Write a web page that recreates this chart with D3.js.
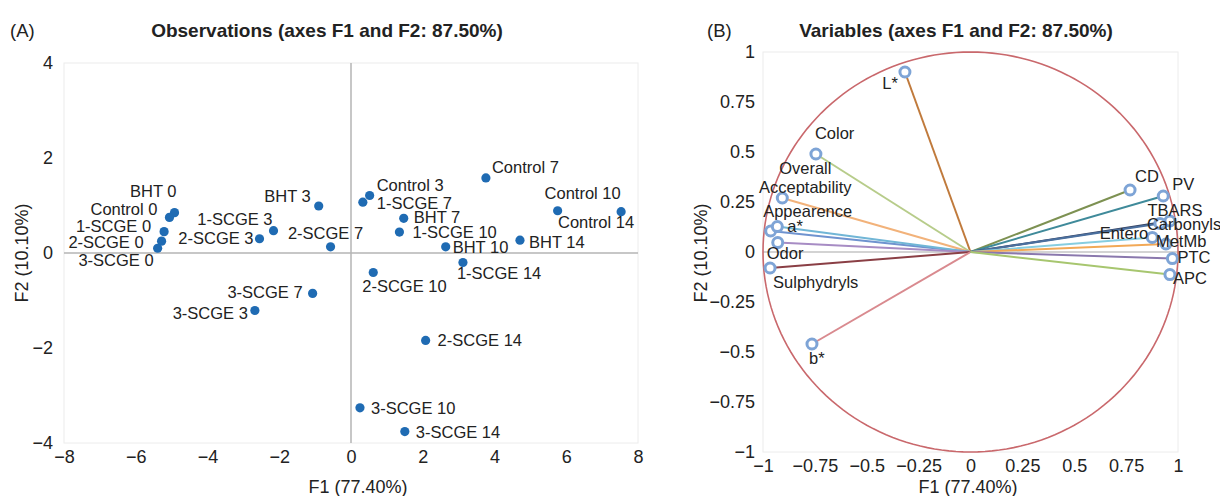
<!DOCTYPE html>
<html>
<head>
<meta charset="utf-8">
<script src="https://cdn.jsdelivr.net/npm/d3@7"></script>
<style>
  body { margin: 0; background: #fff; }
  svg { font-family: "Liberation Sans", Arial, sans-serif; }
</style>
</head>
<body>
<svg width="1220" height="496"></svg>
<script>
let width = 1220, height = 496;

// observations (panel A)
let obsNames = ["BHT 0", "Control 0", "1-SCGE 0", "2-SCGE 0", "3-SCGE 0",
    "BHT 3", "1-SCGE 3", "2-SCGE 3", "2-SCGE 7", "3-SCGE 7", "3-SCGE 3",
    "Control 3", "1-SCGE 7", "Control 7", "BHT 7", "1-SCGE 10", "BHT 10",
    "BHT 14", "Control 10", "Control 14", "1-SCGE 14", "2-SCGE 10",
    "2-SCGE 14", "3-SCGE 10", "3-SCGE 14"];
let obsF1 = [-4.92, -5.06, -5.21, -5.28, -5.39, -0.90, -2.16, -2.55, -0.57, -1.07, -2.68,
    0.52, 0.33, 3.76, 1.47, 1.35, 2.64, 4.71, 5.76, 7.53, 3.12, 0.62, 2.08, 0.25, 1.50];
let obsF2 = [0.85, 0.75, 0.45, 0.25, 0.10, 0.99, 0.47, 0.30, 0.13, -0.85, -1.21,
    1.21, 1.07, 1.58, 0.73, 0.44, 0.13, 0.27, 0.89, 0.87, -0.20, -0.41, -1.84, -3.26, -3.76];

// variables (panel B)
let varNames = ["L*", "Color", "Overall\nAcceptability", "Appearence", "a*", "Odor",
    "Sulphydryls", "b*", "CD", "PV", "TBARS", "Carbonyls", "Entero", "MetMb", "PTC", "APC"];
let varF1 = [-0.316, -0.745, -0.907, -0.963, -0.931, -0.929, -0.966, -0.764,
    0.769, 0.929, 0.961, 0.913, 0.876, 0.942, 0.973, 0.961];
let varF2 = [0.90, 0.49, 0.27, 0.105, 0.127, 0.047, -0.08, -0.46,
    0.31, 0.28, 0.155, 0.143, 0.073, 0.04, -0.033, -0.113];

let obsTicksX = [-8, -6, -4, -2, 0, 2, 4, 6, 8];
let obsTicksY = [-4, -2, 0, 2, 4];
let varTicks = [-1, -0.75, -0.5, -0.25, 0, 0.25, 0.5, 0.75, 1];

// label offsets [dx, dy, anchor]
let obsLabelPos = [
    [2, -21, "end"], [-12, -8, "end"], [-13, -5, "end"], [-18, 1, "end"], [-4, 12, "end"],
    [-8, -10, "end"], [-1, -11, "end"], [-6, -1, "end"], [-5, -14, "middle"], [-10, -1, "end"],
    [-7, 3, "end"], [7, -10, "start"], [14, 1, "start"], [6, -11, "start"], [10, -1, "start"],
    [13, 0, "start"], [7, 0, "start"], [9, 2, "start"], [25, -18, "middle"], [13, 11, "end"],
    [-6, 11, "start"], [-11, 14, "start"], [12, 0, "start"], [11, 0, "start"], [11, 1, "start"]];

let varLabelPos = [
    [-7, 11, "end"], [-1, -21, "start"], [23, -30, "middle"], [37, -20, "middle"], [10, 0, "start"],
    [-11, 11, "start"], [3, 14, "start"], [-3, 14, "start"], [5, -14, "start"], [9, -12, "start"],
    [5, -11, "middle"], [-13, 1, "start"], [-4, -4, "end"], [-10, -3, "start"], [5, -1, "start"],
    [3, 4, "start"]];
let varColors = ["#c07a3c", "#b7cc8a", "#f2b27a", "#6f93cf", "#71b6d6", "#a78cc4",
    "#8a3f45", "#d98a8f", "#7d9152", "#3f8a9a", "#34405f", "#4a6f9e", "#86cde0",
    "#f2a957", "#8a78ad", "#a7c66f"];

let svg = d3.select("svg")
    .attr("viewBox", "0 0 " + width + " " + height);

let fmt = v => (v < 0 ? "\u2212" : "") + d3.format("")(Math.abs(v));
let tickSize = 18, labelSize = 16.5;

// ---------- panel A ----------
let xA = d3.scaleLinear().domain([-8, 8]).range([64, 638]);
let yA = d3.scaleLinear().domain([-4, 4]).range([443, 63]);

let gA = svg.append("g");

gA.append("rect")
    .attr("x", 64).attr("y", 63)
    .attr("width", 574).attr("height", 380)
    .attr("fill", "none").attr("stroke", "#ececec");

gA.append("line")
    .attr("x1", xA(-8)).attr("x2", xA(8))
    .attr("y1", yA(0)).attr("y2", yA(0))
    .attr("stroke", "#b4b4b4").attr("stroke-width", 1.5);
gA.append("line")
    .attr("x1", xA(0)).attr("x2", xA(0))
    .attr("y1", yA(4)).attr("y2", yA(-4))
    .attr("stroke", "#b4b4b4").attr("stroke-width", 1.5);

gA.append("g")
    .attr("transform", "translate(0,447)")
    .call(d3.axisBottom(xA).tickValues(obsTicksX).tickSize(0).tickFormat(fmt))
    .call(g => g.select(".domain").remove())
    .selectAll("text")
    .attr("font-size", tickSize).attr("fill", "#222").attr("font-family", "Liberation Sans, Arial");

gA.append("g")
    .attr("transform", "translate(56,0)")
    .call(d3.axisLeft(yA).tickValues(obsTicksY).tickSize(0).tickFormat(fmt))
    .call(g => g.select(".domain").remove())
    .selectAll("text")
    .attr("font-size", tickSize).attr("fill", "#222").attr("font-family", "Liberation Sans, Arial");

gA.selectAll("circle.obs")
    .data(obsNames)
    .enter()
    .append("circle")
    .attr("class", "obs")
    .attr("cx", (d, i) => xA(obsF1[i]))
    .attr("cy", (d, i) => yA(obsF2[i]))
    .attr("r", 4.6)
    .attr("fill", "#1f6bb3");

gA.selectAll("text.obs")
    .data(obsNames)
    .enter()
    .append("text")
    .attr("class", "obs")
    .attr("x", (d, i) => xA(obsF1[i]) + obsLabelPos[i][0])
    .attr("y", (d, i) => yA(obsF2[i]) + obsLabelPos[i][1])
    .attr("dy", "0.35em")
    .attr("text-anchor", (d, i) => obsLabelPos[i][2])
    .attr("font-size", labelSize)
    .attr("fill", "#222")
    .text(d => d);

svg.append("text").attr("x", 10).attr("y", 37).attr("font-size", 18.5).attr("fill", "#222").text("(A)");
svg.append("text").attr("x", 327).attr("y", 37).attr("text-anchor", "middle")
    .attr("font-size", 19).attr("font-weight", "bold").attr("fill", "#222")
    .text("Observations (axes F1 and F2: 87.50%)");
svg.append("text").attr("x", 358).attr("y", 493).attr("text-anchor", "middle")
    .attr("font-size", tickSize).attr("fill", "#222").text("F1 (77.40%)");
svg.append("text").attr("transform", "translate(28,253) rotate(-90)").attr("text-anchor", "middle")
    .attr("font-size", tickSize).attr("fill", "#222").text("F2 (10.10%)");

// ---------- panel B ----------
let xB = d3.scaleLinear().domain([-1, 1]).range([763, 1178]);
let yB = d3.scaleLinear().domain([-1, 1]).range([452, 52]);

let gB = svg.append("g");

gB.append("rect")
    .attr("x", 763).attr("y", 52)
    .attr("width", 415).attr("height", 400)
    .attr("fill", "none").attr("stroke", "#ececec");

gB.append("line")
    .attr("x1", xB(-1)).attr("x2", xB(1))
    .attr("y1", yB(0)).attr("y2", yB(0))
    .attr("stroke", "#c4c4c4").attr("stroke-width", 1.5);

gB.append("g")
    .attr("transform", "translate(0,456)")
    .call(d3.axisBottom(xB).tickValues(varTicks).tickSize(0).tickFormat(fmt))
    .call(g => g.select(".domain").remove())
    .selectAll("text")
    .attr("font-size", tickSize).attr("fill", "#222").attr("font-family", "Liberation Sans, Arial");

gB.append("g")
    .attr("transform", "translate(758,0)")
    .call(d3.axisLeft(yB).tickValues(varTicks).tickSize(0).tickFormat(fmt))
    .call(g => g.select(".domain").remove())
    .selectAll("text")
    .attr("font-size", tickSize).attr("fill", "#222").attr("font-family", "Liberation Sans, Arial");

let circ = d3.range(0, 361, 2).map(a => [Math.cos(a * Math.PI / 180), Math.sin(a * Math.PI / 180)]);
gB.append("path")
    .datum(circ)
    .attr("d", d3.line().x(d => xB(d[0])).y(d => yB(d[1])))
    .attr("fill", "none")
    .attr("stroke", "#c9686c")
    .attr("stroke-width", 1.6);

gB.selectAll("line.vec")
    .data(varNames)
    .enter()
    .append("line")
    .attr("class", "vec")
    .attr("x1", xB(0)).attr("y1", yB(0))
    .attr("x2", (d, i) => xB(varF1[i]))
    .attr("y2", (d, i) => yB(varF2[i]))
    .attr("stroke", (d, i) => varColors[i])
    .attr("stroke-width", 2);

gB.selectAll("circle.vec")
    .data(varNames)
    .enter()
    .append("circle")
    .attr("class", "vec")
    .attr("cx", (d, i) => xB(varF1[i]))
    .attr("cy", (d, i) => yB(varF2[i]))
    .attr("r", 5)
    .attr("fill", "#fff")
    .attr("stroke", "#7ea4d6")
    .attr("stroke-width", 3);

gB.selectAll("text.vec")
    .data(varNames)
    .enter()
    .append("text")
    .attr("class", "vec")
    .attr("x", (d, i) => xB(varF1[i]) + varLabelPos[i][0])
    .attr("y", (d, i) => yB(varF2[i]) + varLabelPos[i][1])
    .attr("text-anchor", (d, i) => varLabelPos[i][2])
    .attr("font-size", labelSize)
    .attr("fill", "#222")
    .each(function (d, i) {
        let lines = d.split("\n");
        let t = d3.select(this);
        lines.forEach((l, j) => {
            t.append("tspan")
                .attr("x", xB(varF1[i]) + varLabelPos[i][0])
                .attr("dy", j == 0 ? "0.35em" : "1.15em")
                .text(l);
        });
    });

svg.append("text").attr("x", 707).attr("y", 37).attr("font-size", 18.5).attr("fill", "#222").text("(B)");
svg.append("text").attr("x", 956).attr("y", 37).attr("text-anchor", "middle")
    .attr("font-size", 19).attr("font-weight", "bold").attr("fill", "#222")
    .text("Variables (axes F1 and F2: 87.50%)");
svg.append("text").attr("x", 968).attr("y", 493).attr("text-anchor", "middle")
    .attr("font-size", tickSize).attr("fill", "#222").text("F1 (77.40%)");
svg.append("text").attr("transform", "translate(707,253) rotate(-90)").attr("text-anchor", "middle")
    .attr("font-size", tickSize).attr("fill", "#222").text("F2 (10.10%)");
</script>
</body>
</html>
